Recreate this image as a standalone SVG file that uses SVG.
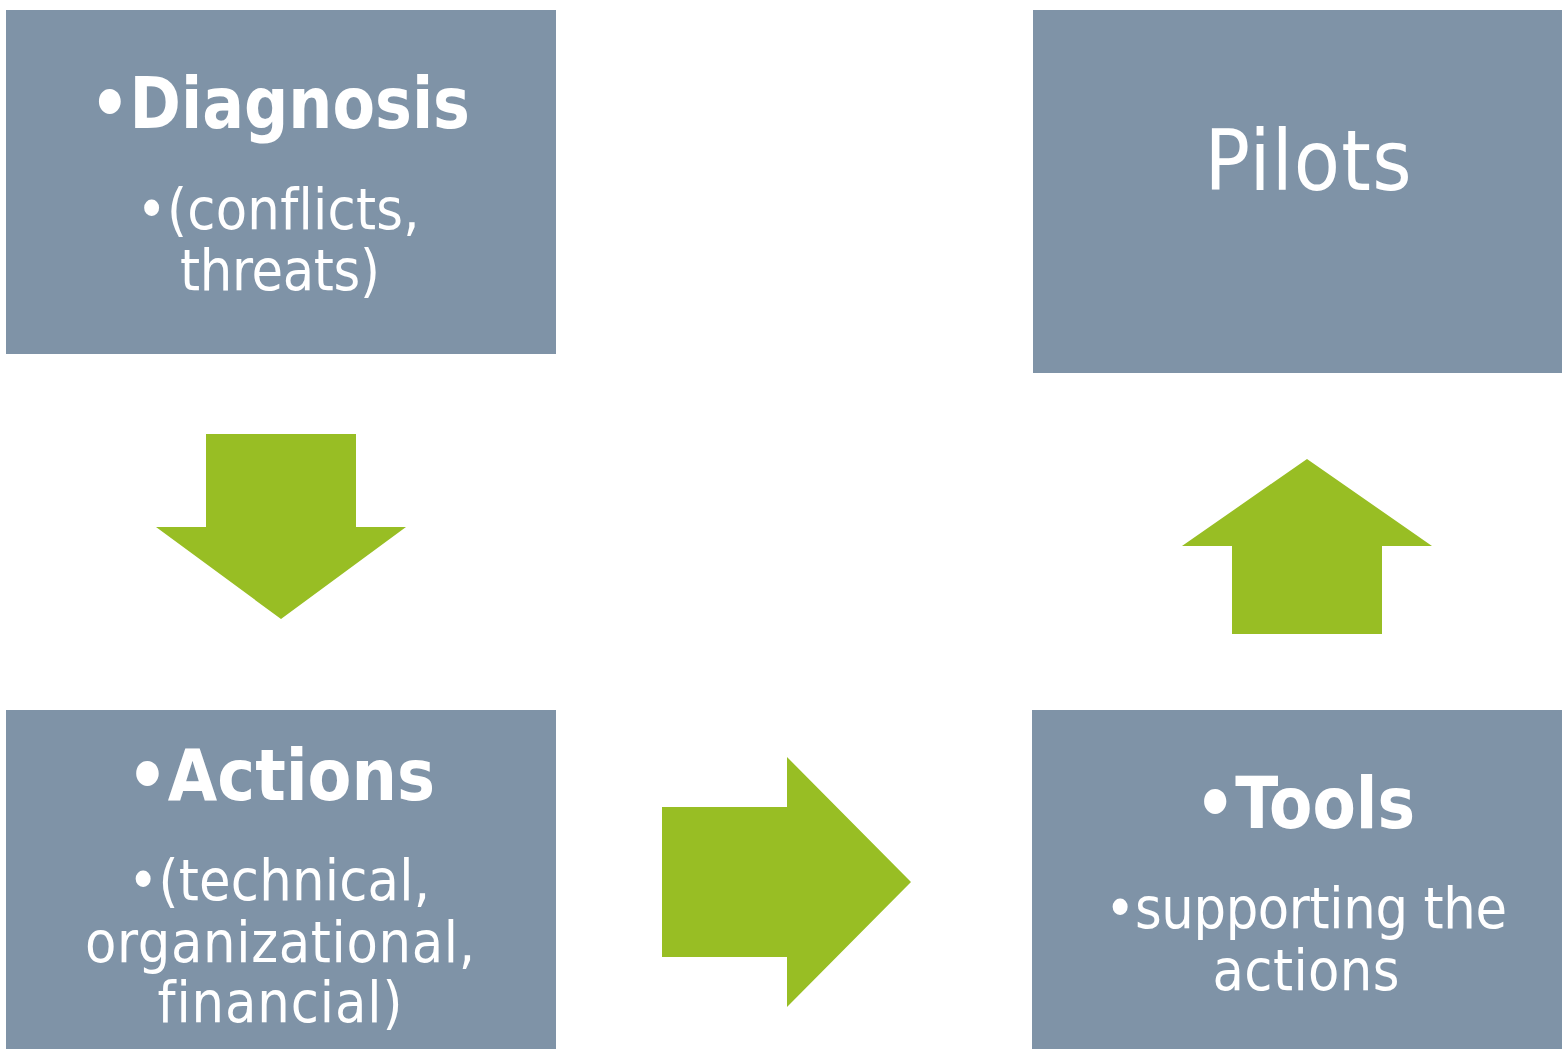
<svg xmlns="http://www.w3.org/2000/svg" width="1562" height="1049" viewBox="0 0 1562 1049">
<style>
.box{fill:#7F93A7}
.arrow{fill:#98BE24}
text{fill:#FFFFFF;font-family:"DejaVu Sans Condensed","Liberation Sans Narrow","Liberation Sans",sans-serif;text-anchor:middle;font-variant-ligatures:none}
.h{font-weight:bold;font-size:72px}
.s{font-size:57px}
.p{font-size:84px}
</style>
<rect width="1562" height="1049" fill="#FFFFFF"/>
<g id="diagnosis">
<rect class="box" x="6" y="10" width="550" height="344"/>
<text class="h" x="280" y="128" textLength="380" lengthAdjust="spacingAndGlyphs">•Diagnosis</text>
<text class="s" x="278" y="229" textLength="283" lengthAdjust="spacing">•(conflicts,</text>
<text class="s" x="280" y="290" textLength="200" lengthAdjust="spacing">threats)</text>
</g>
<g id="pilots">
<rect class="box" x="1033" y="10" width="529" height="363"/>
<text class="p" x="1308" y="190" textLength="207" lengthAdjust="spacing">Pilots</text>
</g>
<g id="actions">
<rect class="box" x="6" y="710" width="550" height="339"/>
<text class="h" x="281" y="800" textLength="308" lengthAdjust="spacingAndGlyphs">•Actions</text>
<text class="s" x="279" y="900" textLength="302" lengthAdjust="spacing">•(technical,</text>
<text class="s" x="280" y="962" textLength="390" lengthAdjust="spacing">organizational,</text>
<text class="s" x="280" y="1022" textLength="245" lengthAdjust="spacing">financial)</text>
</g>
<g id="tools">
<rect class="box" x="1032" y="710" width="530" height="339"/>
<text class="h" x="1305" y="828" textLength="220" lengthAdjust="spacingAndGlyphs">•Tools</text>
<text class="s" x="1306" y="928" textLength="402" lengthAdjust="spacing">•supporting the</text>
<text class="s" x="1306" y="990" textLength="187" lengthAdjust="spacing">actions</text>
</g>
<g id="connectors">
<polygon class="arrow" points="206,434 356,434 356,527 406,527 281,619 156,527 206,527"/>
<polygon class="arrow" points="662,807 787,807 787,757 911,882 787,1007 787,957 662,957"/>
<polygon class="arrow" points="1307,459 1432,546 1382,546 1382,634 1232,634 1232,546 1182,546"/>
</g>
</svg>
